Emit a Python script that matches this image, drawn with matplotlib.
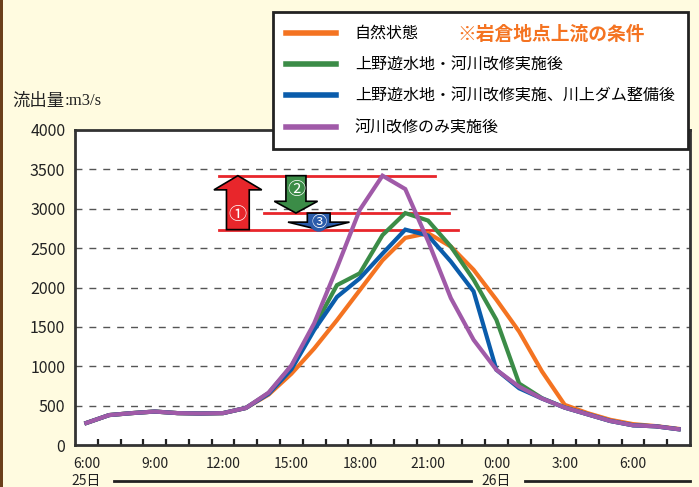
import numpy as np
import matplotlib
matplotlib.use("Agg")
import matplotlib.pyplot as plt
from matplotlib.patches import FancyArrow, Rectangle
from matplotlib.lines import Line2D

plt.rcParams['font.family'] = ['Noto Sans CJK JP', 'DejaVu Sans']

# hourly values, 25日 6:00 -> 26日 8:00
hours = np.arange(6, 33)
natural = [280, 380, 405, 425, 405, 400, 405, 470, 640, 905, 1225, 1585, 1965, 2345,
           2630, 2690, 2520, 2225, 1845, 1440, 935, 510, 405, 320, 265, 240, 205]
ueno = [280, 380, 405, 425, 405, 400, 405, 470, 660, 1000, 1500, 2030, 2180, 2665,
        2945, 2850, 2520, 2100, 1590, 780, 595, 475, 390, 305, 250, 237, 200]
ueno_dam = [280, 380, 405, 425, 405, 400, 405, 470, 650, 960, 1460, 1880, 2115, 2430,
            2735, 2660, 2330, 1950, 955, 720, 590, 475, 390, 305, 250, 237, 200]
river_only = [280, 380, 405, 425, 405, 400, 405, 470, 665, 1010, 1545, 2250, 2985, 3420,
              3250, 2590, 1865, 1335, 955, 740, 590, 475, 390, 305, 250, 237, 200]

labels = ['自然状態', '上野遊水地・河川改修実施後',
          '上野遊水地・河川改修実施、川上ダム整備後', '河川改修のみ実施後']
colors = ['#F47321', '#3B8C47', '#0A5CAB', '#A05AA8']

tick_hours = [6, 9, 12, 15, 18, 21, 24, 27, 30]
tick_labels = ['6:00', '9:00', '12:00', '15:00', '18:00', '21:00', '0:00', '3:00', '6:00']

bg = '#FFFBE0'

fig = plt.figure(figsize=(6.99, 4.87), dpi=100, facecolor=bg)
ax = fig.add_axes([75 / 699, 1 - 445 / 487, 615 / 699, 315 / 487])
ax.set_facecolor('white')

for y, lab, c in zip([natural, ueno, ueno_dam, river_only], labels, colors):
    ax.plot(hours, y, color=c, lw=3, label=lab, solid_joinstyle='miter', zorder=3)

ax.set_xlim(5.5, 32.5)
ax.set_ylim(0, 4000)
ax.set_yticks(np.arange(0, 4001, 500))
ax.tick_params(axis='y', length=0, pad=7, labelsize=11.5, colors='#222222')
ax.set_xticks(tick_hours)
ax.set_xticklabels(tick_labels)
ax.set_xticks(np.arange(6.5, 32, 1), minor=True)
ax.tick_params(axis='x', which='major', length=0, pad=9, labelsize=10, colors='#222222')
ax.tick_params(axis='x', which='minor', direction='in', length=4, width=1.6, color='#222222')
for yv in np.arange(500, 4000, 500):
    ax.axhline(yv, color='#555555', lw=1, ls=(0, (5, 5)), zorder=1)
for s in ax.spines.values():
    s.set_linewidth(2)
    s.set_color('#333333')

# peak reference lines
top = max(river_only)
mid = max(ueno)
low = max(ueno_dam)
red = '#E8262B'
ax.plot([11.8, 21.3], [top, top], color=red, lw=2, zorder=2)
ax.plot([13.8, 21.9], [mid, mid], color=red, lw=2, zorder=2)
ax.plot([11.8, 22.3], [low, low], color=red, lw=2, zorder=2)

# arrows
ax.add_patch(FancyArrow(12.65, low, 0, top - low, width=1.0, head_width=2.1, head_length=180,
                        length_includes_head=True, fc='#E8262B', ec='black', lw=1.2, zorder=4))
ax.add_patch(FancyArrow(15.2, top, 0, mid - top, width=0.88, head_width=1.9, head_length=150,
                        length_includes_head=True, fc='#3B8C47', ec='black', lw=1.2, zorder=4))
ax.add_patch(FancyArrow(16.2, mid, 0, low - mid, width=1.0, head_width=2.7, head_length=95,
                        length_includes_head=True, fc='#2A5BAA', ec='black', lw=1.2, zorder=4))
ax.text(12.65, (top + low) / 2 - 160, '①', color='white', fontsize=13, ha='center', va='center', zorder=5)
ax.text(15.2, top - 180, '②', color='white', fontsize=13, ha='center', va='center', zorder=5)
ax.text(16.2, (mid + low) / 2 - 20, '③', color='white', fontsize=11, ha='center', va='center', zorder=5,
        bbox=dict(boxstyle='circle,pad=0.02', fc='#2A5BAA', ec='none'))

# date row
tr = ax.get_xaxis_transform()
ax.text(6, -0.115, '25日', transform=tr, ha='center', va='center', fontsize=10, color='#222222', clip_on=False)
ax.text(24, -0.115, '26日', transform=tr, ha='center', va='center', fontsize=10, color='#222222', clip_on=False)
ax.add_line(Line2D([7.2, 22.9], [-0.115, -0.115], transform=tr, color='#222222', lw=2, clip_on=False))
ax.add_line(Line2D([25.25, 32.5], [-0.115, -0.115], transform=tr, color='#222222', lw=2, clip_on=False))

# unit label
t1 = fig.text(12 / 699, 1 - 101 / 487, '流出量', fontsize=12.5, va='center', color='#222222')
ax.annotate(':m3/s', xy=(1, 0.5), xycoords=t1, va='center', fontsize=12,
            family=['Liberation Serif', 'DejaVu Serif'], color='#222222', annotation_clip=False)

# legend box
leg = fig.legend(loc='upper left', bbox_to_anchor=(273 / 699, 1 - 12 / 487), fontsize=11.5,
                 frameon=True, fancybox=False, edgecolor='#222222', facecolor='white',
                 framealpha=1, handlelength=3.1, handletextpad=1.2, labelspacing=0.9,
                 borderpad=0.82, borderaxespad=0)
leg.get_frame().set_linewidth(2)
for h in leg.get_lines():
    h.set_linewidth(4)
leg.set_zorder(10)
fig.text(457 / 699, 1 - 34 / 487, '※岩倉地点上流の条件', fontsize=13.5, fontweight='bold',
         color='#F47321', va='center', zorder=11)

# left brown edge
fig.patches.append(Rectangle((0, 0), 3 / 699, 1, transform=fig.transFigure, fc='#6B3F1A', ec='none'))

fig.savefig('out.png', dpi=100, facecolor=bg)
